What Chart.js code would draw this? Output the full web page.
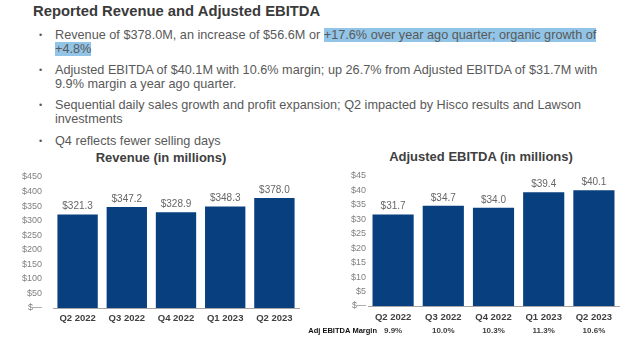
<!DOCTYPE html>
<html><head><meta charset="utf-8">
<script src="https://cdn.jsdelivr.net/npm/chart.js@4"></script>
<style>
body{margin:0;width:640px;height:340px;background:#fff;overflow:hidden;font-family:"Liberation Sans",Arial,sans-serif;position:relative}
#title{position:absolute;left:33px;top:3px;font-size:14.8px;font-weight:bold;color:#3a3a3a;white-space:nowrap}
.ln{position:absolute;left:55px;font-size:12.7px;color:#595959;white-space:nowrap;line-height:14px}
.bul{position:absolute;left:39px;font-size:9px;color:#595959;line-height:14px}
.hl{background:#91c4e6}
.ct{position:absolute;font-size:13px;font-weight:bold;color:#404040;white-space:nowrap;transform:translate(-50%,-50%)}
canvas{position:absolute}
</style></head>
<body>
<div id="title">Reported Revenue and Adjusted EBITDA</div>
<div class="bul" style="top:28px">•</div>
<div class="ln" style="top:28px">Revenue of $378.0M, an increase of $56.6M or <span class="hl">+17.6% over year ago quarter; organic growth of</span></div>
<div class="ln" style="top:42px"><span class="hl">+4.8%</span></div>
<div class="bul" style="top:63px">•</div>
<div class="ln" style="top:63px">Adjusted EBITDA of $40.1M with 10.6% margin; up 26.7% from Adjusted EBITDA of $31.7M with</div>
<div class="ln" style="top:77px">9.9% margin a year ago quarter.</div>
<div class="bul" style="top:98px">•</div>
<div class="ln" style="top:98px">Sequential daily sales growth and profit expansion; Q2 impacted by Hisco results and Lawson</div>
<div class="ln" style="top:112px">investments</div>
<div class="bul" style="top:134px">•</div>
<div class="ln" style="top:134px">Q4 reflects fewer selling days</div>
<div class="ct" style="left:161px;top:157px">Revenue (in millions)</div>
<div class="ct" style="left:481px;top:156px">Adjusted EBITDA (in millions)</div>
<canvas id="rev" width="320" height="200" style="left:0;top:140px"></canvas>
<canvas id="ebt" width="340" height="200" style="left:300px;top:140px"></canvas>
<script>
const categories = ['Q2 2022','Q3 2022','Q4 2022','Q1 2023','Q2 2023'];
const revenue = [321.3, 347.2, 328.9, 348.3, 378.0];
const ebitda = [31.7, 34.7, 34.0, 39.4, 40.1];
const margins = ['9.9%','10.0%','10.3%','11.3%','10.6%'];
const marginLabel = 'Adj EBITDA Margin';
const revenueAxis = {max: 450, step: 50};
const ebitdaAxis = {max: 45, step: 5};

const FONT = '"Liberation Sans", Arial, sans-serif';
const BAR = '#083f7f';

const valueLabels = {
  id: 'valueLabels',
  afterDatasetsDraw(chart) {
    const ctx = chart.ctx;
    const meta = chart.getDatasetMeta(0);
    ctx.save();
    ctx.font = '10px ' + FONT;
    ctx.fillStyle = '#666666';
    ctx.textAlign = 'center';
    ctx.textBaseline = 'middle';
    meta.data.forEach((bar, i) => {
      const v = chart.data.datasets[0].data[i];
      ctx.fillText('$' + v.toFixed(1), bar.x, bar.y - 8);
    });
    ctx.restore();
  }
};

const marginRow = {
  id: 'marginRow',
  afterDraw(chart) {
    const ctx = chart.ctx;
    const xs = chart.scales.x;
    const y = 191;
    ctx.save();
    ctx.textBaseline = 'middle';
    ctx.font = 'bold 7.5px ' + FONT;
    ctx.fillStyle = '#111111';
    ctx.textAlign = 'right';
    ctx.fillText(marginLabel, 77, y);
    ctx.font = 'bold 8px ' + FONT;
    ctx.fillStyle = '#404040';
    ctx.textAlign = 'center';
    margins.forEach((m, i) => ctx.fillText(m, xs.getPixelForValue(i), y));
    ctx.restore();
  }
};

function makeChart(id, data, axis, opts, plugins) {
  return new Chart(document.getElementById(id), {
    type: 'bar',
    data: {
      labels: categories,
      datasets: [{ data: data, backgroundColor: BAR, borderWidth: 0,
        barPercentage: 0.82, categoryPercentage: 1.0 }]
    },
    options: {
      responsive: false,
      animation: false,
      devicePixelRatio: 1,
      layout: { padding: { left: 0, right: opts.right, top: opts.top, bottom: 0 } },
      plugins: { legend: { display: false }, tooltip: { enabled: false }, title: { display: false } },
      scales: {
        x: {
          grid: { display: false, drawTicks: false },
          border: { display: true, color: '#a6a6a6', width: 1 },
          ticks: { color: '#404040', font: { family: FONT, size: 9.5, weight: 'bold' }, padding: opts.xpad, maxRotation: 0 },
          afterFit: s => { s.height = opts.xh; }
        },
        y: {
          min: 0, max: axis.max,
          grid: { display: false, drawTicks: false },
          border: { display: false },
          ticks: { stepSize: axis.step, color: '#808080', font: { family: FONT, size: 9 }, padding: opts.ypad,
            callback: v => v === 0 ? '$\u2014' : '$' + v },
          afterFit: s => { s.width = opts.yw; }
        }
      }
    },
    plugins: plugins
  });
}

makeChart('rev', revenue, revenueAxis, { right: 21, top: 37, xh: 32, xpad: 5, yw: 53, ypad: 11 }, [valueLabels]);
makeChart('ebt', ebitda, ebitdaAxis, { right: 21, top: 36, xh: 34, xpad: 6, yw: 68, ypad: 2 }, [valueLabels, marginRow]);
</script>
</body></html>
